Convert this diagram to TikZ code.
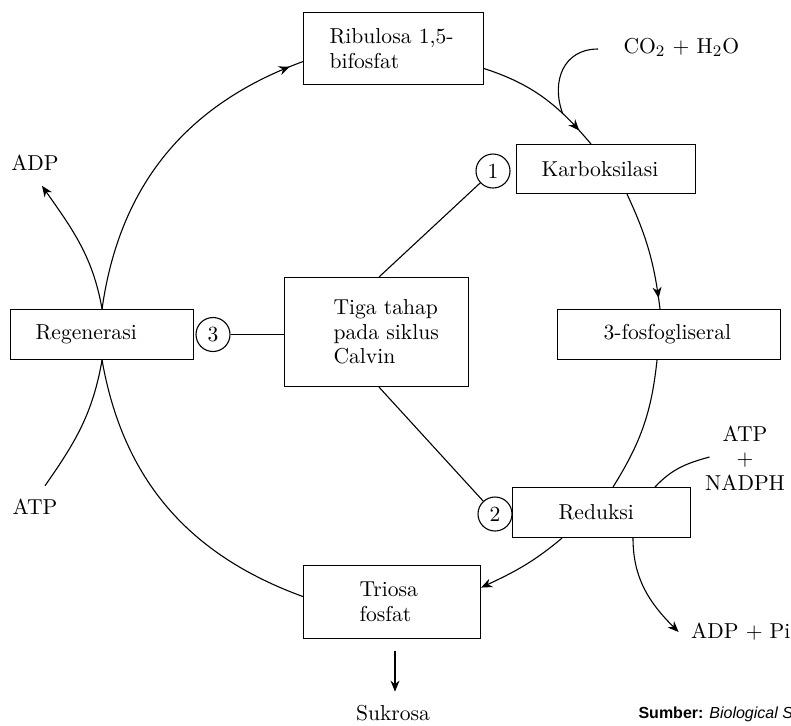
\documentclass[tikz,border=0pt]{standalone}
\usepackage{fontspec}
\newfontfamily\srcfont{Liberation Sans}
\usetikzlibrary{calc, arrows.meta, decorations.markings}

\begin{document}
\begin{tikzpicture}[x=0.5pt, y=0.5pt, line width=0.55pt,
		font=\fontsize{10.8}{12.3}\selectfont,
		>={Stealth[length=5.5pt, width=4.5pt]},
		box/.style n args={3}{draw, anchor=north west, align=left, text width=#1,
			inner xsep=#2, inner ysep=0pt, minimum height=#3},
		num/.style={circle, draw, minimum size=17pt, inner sep=0pt},
		lbl/.style={inner sep=0pt},
		flow/.style={postaction={decorate}, decoration={markings,
				mark=at position #1 with {\arrow{>}}}},
		flow/.default=-6pt]
		\useasboundingbox (0,0) rectangle (791,-725);
		
		% the stages of the cycle
		\node[box={64pt}{13pt}{36pt}] (rib) at (303,-12) {\mbox{Ribulosa 1,5-}\\bifosfat};
		\node[box={64.5pt}{12.5pt}{24.5pt}] (karbo) at (516,-144) {Karboksilasi};
		\node[box={65.5pt}{23pt}{25pt}] (fosfo) at (557,-309) {\mbox{3-fosfogliseral}};
		\node[box={43pt}{23pt}{25pt}] (red) at (512,-487) {\mbox{Reduksi}};
		\node[box={32.5pt}{28pt}{36.5pt}] (trio) at (303,-565) {Triosa\\fosfat};
		\node[box={66.5pt}{12.5pt}{25pt}] (regen) at (10,-309) {Regenerasi};
		\node[box={43pt}{24.5pt}{54.5pt}] (tiga) at (284,-277)
		{\mbox{Tiga tahap}\\\mbox{pada siklus}\\Calvin};
		
		\node[num] (c1) at (493,-171) {1};
		\node[num] (c2) at (495,-514) {2};
		\node[num] (c3) at (213,-334.5) {3};
		
		% what goes in and out
		\node[lbl, anchor=base west] (co2) at (623,-53) {CO$_2$ + H$_2$O};
		\node[lbl] (adpL) at (35,-163) {ADP};
		\node[lbl] (atpL) at (35,-507) {ATP};
		\node[lbl, align=center] (nadph) at (745,-458) {ATP\\+\\NADPH};
		\node[lbl, anchor=east] (adppi) at (791,-632) {ADP + Pi};
		\node[lbl] (suk) at (393,-713) {Sukrosa};
		\node[lbl, anchor=base west, font=\srcfont\fontsize{8}{9}\selectfont] (src)
		at (638,-718) {\textbf{Sumber:} \textit{Biological S}};
		
		% the cycle itself
		\draw[flow=-7pt] (regen.north) to[out=82, in=200] ($(rib.west)+(0,-13)$);
		\draw[flow=-9pt] ($(rib.east)+(0,-20)$) to[out=-18, in=130] coordinate[pos=0.7] (co2in)
		($(karbo.north west)+(75,0)$);
		\draw[flow=-5.5pt] ($(karbo.south west)+(111,0)$) to[out=-65, in=97] ($(fosfo.north west)+(103,0)$);
		\draw ($(fosfo.south west)+(100,0)$) to[out=-96, in=58] ($(red.north west)+(101,0)$);
		\draw[->] ($(red.south west)+(50,0)$) to[out=-140, in=25] ($(trio.east)+(0,14.5)$);
		\draw ($(trio.west)+(0,5.5)$) to[out=160, in=-80] (regen.south);
		
		\draw ($(co2.base west)+(-25,4)$) to[out=180, in=110, looseness=1.2] (co2in);
		\draw[->] (regen.north) to[out=100, in=-55] ($(adpL.south)+(7,-14.5)$);
		\draw (regen.south) to[out=-100, in=55] ($(atpL.north)+(10,13)$);
		\draw ($(nadph.west)+(5,1)$) to[out=195, in=47] ($(red.north west)+(143,0)$);
		\draw[->] ($(red.south west)+(121,0)$) to[out=-90, in=135] ($(adppi.west)+(-12,0)$);
		\draw[->] ($(suk.north)+(2,54)$) -- ($(suk.north)+(2,13)$);
		
		% numbered steps to the centre box
		\draw (c1) -- ($(tiga.north west)+(95,0)$);
		\draw (c2) -- ($(tiga.south west)+(95,0)$);
		\draw (c3) -- (c3 -| tiga.west);
	\end{tikzpicture}
\end{document}
